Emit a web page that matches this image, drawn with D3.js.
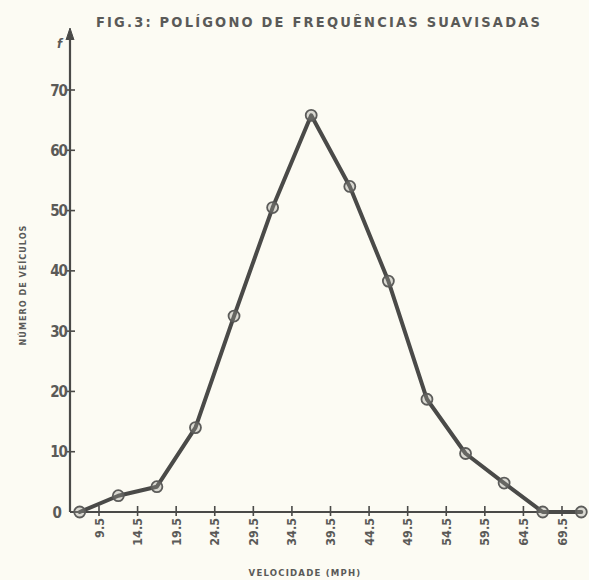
<!DOCTYPE html>
<html>
<head>
<meta charset="utf-8">
<script src="https://cdn.jsdelivr.net/npm/d3@7"></script>
<style>
  html, body { margin: 0; padding: 0; background: #fcfbf3; }
  svg { display: block; }
  text { font-family: "DejaVu Sans Condensed", "DejaVu Sans", sans-serif; fill: #5a5a58; font-weight: bold; }
</style>
</head>
<body>
<svg id="chart" width="589" height="580"></svg>
<script>
// Class midpoints (mph) and smoothed frequencies
const midpoints = [7, 12, 17, 22, 27, 32, 37, 42, 47, 52, 57, 62, 67, 72];
const frequencies = [0, 2.7, 4.2, 14, 32.5, 50.5, 65.8, 54, 38.3, 18.7, 9.7, 4.8, 0, 0];
// Class boundaries shown on the horizontal axis
const boundaries = [9.5, 14.5, 19.5, 24.5, 29.5, 34.5, 39.5, 44.5, 49.5, 54.5, 59.5, 64.5, 69.5];
const yTicks = [0, 10, 20, 30, 40, 50, 60, 70];

const title = "FIG.3: POLÍGONO DE FREQUÊNCIAS SUAVISADAS";
const xTitle = "VELOCIDADE (MPH)";
const yTitle = "NÚMERO DE VEÍCULOS";

const svg = d3.select("#chart");
const ink = "#4a4a48";

const x = d3.scaleLinear().domain([9.5, 69.5]).range([99, 562]);
const y = d3.scaleLinear().domain([0, 70]).range([512, 90]);
const x0 = 70;

// Title
svg.append("text")
  .attr("x", 319).attr("y", 27)
  .attr("text-anchor", "middle")
  .attr("font-size", 14.5)
  .attr("letter-spacing", 2.2)
  .text(title);

// Vertical axis with arrow head
svg.append("line")
  .attr("x1", x0).attr("x2", x0)
  .attr("y1", y(0)).attr("y2", 32)
  .attr("stroke", ink).attr("stroke-width", 2.2);
svg.append("path")
  .attr("d", d3.line()([[x0 - 4, 40], [x0, 28], [x0 + 4, 40]]))
  .attr("fill", ink).attr("stroke", ink).attr("stroke-width", 1);
svg.append("text")
  .attr("x", 57).attr("y", 48)
  .attr("font-size", 13)
  .attr("font-style", "italic")
  .text("f");

// Horizontal axis
svg.append("line")
  .attr("x1", x0).attr("x2", 578)
  .attr("y1", y(0)).attr("y2", y(0))
  .attr("stroke", ink).attr("stroke-width", 2.2);

// Y ticks and labels
const yt = svg.append("g");
yt.selectAll("line").data(yTicks.filter(d => d > 0)).join("line")
  .attr("x1", x0 - 3).attr("x2", x0 + 5)
  .attr("y1", d => y(d)).attr("y2", d => y(d))
  .attr("stroke", ink).attr("stroke-width", 1.6);
yt.selectAll("text").data(yTicks).join("text")
  .attr("x", d => d === 0 ? 61 : 67)
  .attr("y", d => y(d) + 5.5)
  .attr("text-anchor", "end")
  .attr("font-size", 15)
  .attr("font-weight", "normal")
  .attr("letter-spacing", -1)
  .text(d => d);

// X ticks and rotated boundary labels
const xt = svg.append("g");
xt.selectAll("line").data(boundaries).join("line")
  .attr("x1", d => x(d)).attr("x2", d => x(d))
  .attr("y1", y(0) - 6).attr("y2", y(0) + 4)
  .attr("stroke", ink).attr("stroke-width", 1.6);
xt.selectAll("text").data(boundaries).join("text")
  .attr("transform", d => `translate(${x(d) + 4.5},${y(0) + 6}) rotate(-90)`)
  .attr("text-anchor", "end")
  .attr("font-size", 12.5)
  .text(d => d.toFixed(1));

// Axis titles
svg.append("text")
  .attr("transform", `translate(26,${285}) rotate(-90)`)
  .attr("text-anchor", "middle")
  .attr("font-size", 9)
  .attr("letter-spacing", 1)
  .text(yTitle);
svg.append("text")
  .attr("x", 305).attr("y", 576)
  .attr("text-anchor", "middle")
  .attr("font-size", 9.5)
  .attr("letter-spacing", 1.2)
  .text(xTitle);

// Frequency polygon
const pts = midpoints.map((m, i) => [x(m), y(frequencies[i])]);
svg.append("path")
  .attr("d", d3.line()(pts))
  .attr("fill", "none")
  .attr("stroke", ink)
  .attr("stroke-width", 4)
  .attr("stroke-linejoin", "round")
  .attr("stroke-linecap", "round");

svg.append("g").selectAll("circle").data(pts).join("circle")
  .attr("cx", d => d[0]).attr("cy", d => d[1])
  .attr("r", 5.5)
  .attr("fill", "#9a9a96")
  .attr("fill-opacity", 0.35)
  .attr("stroke", "#5c5c5a")
  .attr("stroke-width", 1.8);
</script>
</body>
</html>
